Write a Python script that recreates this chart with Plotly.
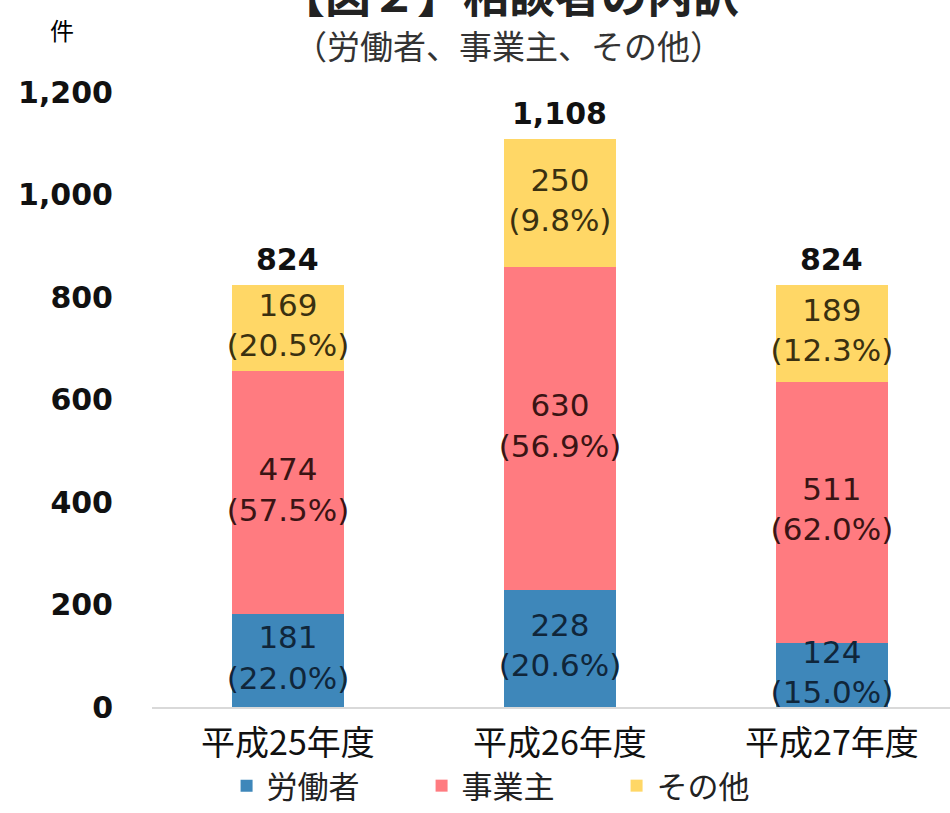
import plotly.graph_objects as go

categories = ["平成25年度", "平成26年度", "平成27年度"]
workers = [181, 228, 124]
employers = [474, 630, 511]
others = [169, 250, 189]
workers_pct = ["22.0%", "20.6%", "15.0%"]
employers_pct = ["57.5%", "56.9%", "62.0%"]
others_pct = ["20.5%", "9.8%", "12.3%"]
totals = [824, 1108, 824]
y_ticks = [0, 200, 400, 600, 800, 1000, 1200]

series_names = ["労働者", "事業主", "その他"]
colors = ["#3E87BA", "#FF7B80", "#FFD766"]
text_colors = ["#10263a", "#3a1414", "#3a3010"]

NUM_FONT = "DejaVu Sans"
CJK_FONT = "Noto Sans CJK JP"

fig = go.Figure()
series = [(workers, workers_pct), (employers, employers_pct), (others, others_pct)]
for (vals, _), name, col in zip(series, series_names, colors):
    fig.add_trace(go.Bar(x=categories, y=vals, name=name, marker_color=col,
                         marker_line_width=0, width=0.41, hoverinfo="skip"))

# segment labels at centre of each segment
base = [0, 0, 0]
for (vals, pcts), tc in zip(series, text_colors):
    mids = [b + v / 2 for b, v in zip(base, vals)]
    labels = [f"{v}<br>({p})" for v, p in zip(vals, pcts)]
    fig.add_trace(go.Scatter(x=categories, y=mids, mode="text", text=labels,
                             textposition="middle center", showlegend=False,
                             hoverinfo="skip",
                             textfont=dict(family=NUM_FONT, size=31, color=tc)))
    base = [b + v for b, v in zip(base, vals)]

annotations = []
for c, t in zip(categories, totals):
    annotations.append(dict(text=f"{t:,}", x=c, y=t, xref="x", yref="y",
                            xanchor="center", yanchor="bottom", yshift=6,
                            showarrow=False,
                            font=dict(family=NUM_FONT, size=30, color="#111111", weight="bold")))

annotations += [
    dict(text="【図２】相談者の内訳", xref="paper", yref="paper",
         x=0.447, y=(707 - 27) / 615, xanchor="center", yanchor="bottom",
         showarrow=False,
         font=dict(family=CJK_FONT, size=46, color="#222222", weight="bold")),
    dict(text="（労働者、事業主、その他）", xref="paper", yref="paper",
         x=0.447, y=(707 - 45) / 615, xanchor="center", yanchor="middle",
         showarrow=False,
         font=dict(family=CJK_FONT, size=33, color="#333333")),
    dict(text="件", xref="paper", yref="paper",
         x=(62 - 152) / 798, y=(707 - 30) / 615, xanchor="center", yanchor="middle",
         showarrow=False,
         font=dict(family=CJK_FONT, size=24, color="#000000")),
]

fig.update_layout(
    width=950, height=813,
    barmode="stack",
    paper_bgcolor="white", plot_bgcolor="white",
    margin=dict(l=152, r=0, t=92, b=106, autoexpand=False),
    showlegend=True,
    legend=dict(orientation="h", x=0.46, xanchor="center", y=(707 - 813) / 615,
                yanchor="bottom",
                font=dict(family=CJK_FONT, size=31, color="#222222"),
                traceorder="normal", itemwidth=30, entrywidth=150,
                bgcolor="rgba(0,0,0,0)"),
    xaxis=dict(range=[-0.5, 2.434], showgrid=False, zeroline=False,
               showline=True, linecolor="#d9d9d9", linewidth=1.5,
               ticks="", ticklabelstandoff=5,
               tickfont=dict(family=CJK_FONT, size=34, color="#111111")),
    yaxis=dict(range=[0, 1200], tickvals=y_ticks,
               ticktext=[f"{v:,}" for v in y_ticks],
               showgrid=False, zeroline=False, showline=False,
               ticklabelstandoff=38,
               tickfont=dict(family=NUM_FONT, size=30, color="#111111", weight="bold")),
    annotations=annotations,
)

fig.write_html("out.html")
